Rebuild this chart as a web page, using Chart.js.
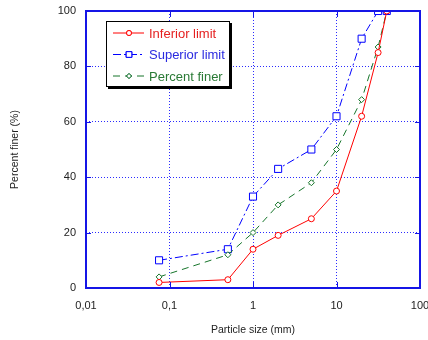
<!DOCTYPE html>
<html>
<head>
<meta charset="utf-8">
<script src="https://cdn.jsdelivr.net/npm/chart.js@4/dist/chart.umd.min.js"></script>
<style>
  html, body { margin: 0; padding: 0; background: #fff; }
</style>
</head>
<body>
<canvas id="chart" width="428" height="340"></canvas>
<script>
// 粒径 (mm) と各曲線の通過百分率
const particleSize = [0.075, 0.5, 1, 2, 5, 10, 20, 31.5, 40];
const inferiorLimit = [2, 3, 14, 19, 25, 35, 62, 85, 100];
const superiorLimit = [10, 14, 33, 43, 50, 62, 90, 100, 100];
const percentFiner = [4, 12, 20, 30, 38, 50, 68, 87, 100];
const xTicks = [0.01, 0.1, 1, 10, 100];
const yTicks = [0, 20, 40, 60, 80, 100];

const FONT = 'Liberation Sans, Arial, sans-serif';
const AXIS_BLUE = '#1515e6';

const toPoints = (ys) => particleSize.map((x, i) => ({ x: x, y: ys[i] }));

// 枠線と内向きの目盛り
const framePlugin = {
    id: 'frame',
    afterDatasetsDraw(chart) {
        const { ctx, chartArea: a, scales } = chart;
        ctx.save();
        ctx.strokeStyle = AXIS_BLUE;
        ctx.lineWidth = 1;
        xTicks.forEach(v => {
            const px = Math.round(scales.x.getPixelForValue(v)) + 0.5;
            ctx.beginPath();
            ctx.moveTo(px, a.bottom); ctx.lineTo(px, a.bottom - 6);
            ctx.moveTo(px, a.top); ctx.lineTo(px, a.top + 6);
            ctx.stroke();
        });
        yTicks.forEach(v => {
            const py = Math.round(scales.y.getPixelForValue(v)) + 0.5;
            ctx.beginPath();
            ctx.moveTo(a.left, py); ctx.lineTo(a.left + 5, py);
            ctx.moveTo(a.right, py); ctx.lineTo(a.right - 5, py);
            ctx.stroke();
        });
        ctx.lineWidth = 2;
        ctx.strokeRect(a.left, a.top, a.right - a.left, a.bottom - a.top);
        ctx.restore();
    }
};

// 影付きの凡例をプロット内に描く
const boxLegendPlugin = {
    id: 'boxLegend',
    afterDraw(chart) {
        const { ctx, chartArea: a } = chart;
        const x0 = a.left + 20, y0 = a.top + 10, w = 124, h = 66;
        ctx.save();
        ctx.fillStyle = '#000';
        ctx.fillRect(x0 + 2, y0 + 2, w, h);
        ctx.fillStyle = '#fff';
        ctx.fillRect(x0, y0, w, h);
        ctx.strokeStyle = '#000';
        ctx.lineWidth = 1;
        ctx.strokeRect(x0 + 0.5, y0 + 0.5, w - 1, h - 1);

        ctx.font = '13px ' + FONT;
        ctx.textBaseline = 'middle';
        chart.data.datasets.forEach((ds, i) => {
            const cy = y0 + 12 + i * 21.5;
            const lx1 = x0 + 7, lx2 = x0 + 38, mx = x0 + 23;
            ctx.strokeStyle = ds.borderColor;
            ctx.lineWidth = 1;
            ctx.setLineDash(ds.borderDash || []);
            ctx.beginPath();
            ctx.moveTo(lx1, cy); ctx.lineTo(lx2, cy);
            ctx.stroke();
            ctx.setLineDash([]);
            Chart.helpers.drawPoint(ctx, {
                pointStyle: ds.pointStyle,
                radius: ds.legendRadius,
                borderWidth: 1
            }, mx, cy);
            ctx.fillStyle = '#fff';
            ctx.fill();
            ctx.stroke();
            ctx.fillStyle = ds.labelColor;
            ctx.fillText(ds.label, x0 + 43, cy + 1);
        });
        ctx.restore();
    }
};

new Chart(document.getElementById('chart'), {
    type: 'line',
    data: {
        datasets: [{
            label: 'Inferior limit',
            data: toPoints(inferiorLimit),
            borderColor: '#ff0000',
            labelColor: '#e52020',
            backgroundColor: '#fff',
            pointStyle: 'circle',
            pointRadius: 3,
            legendRadius: 2.5,
            borderWidth: 1,
            order: 0
        }, {
            label: 'Superior limit',
            data: toPoints(superiorLimit),
            borderColor: '#0000ff',
            labelColor: '#2a2ae0',
            backgroundColor: '#fff',
            borderDash: [8, 3, 2, 3],
            pointStyle: 'rect',
            pointRadius: 5,
            legendRadius: 4,
            borderWidth: 1,
            order: 2
        }, {
            label: 'Percent finer',
            data: toPoints(percentFiner),
            borderColor: '#16752a',
            labelColor: '#2a7a35',
            backgroundColor: '#fff',
            borderDash: [7, 5],
            pointStyle: 'rectRot',
            pointRadius: 3,
            legendRadius: 2.5,
            borderWidth: 1,
            order: 1
        }]
    },
    options: {
        responsive: false,
        animation: false,
        layout: { padding: { top: 11, right: 8, left: 0, bottom: 0 } },
        plugins: {
            legend: { display: false },
            tooltip: { enabled: false }
        },
        elements: {
            line: { tension: 0 },
            point: { borderWidth: 1, hoverRadius: 3 }
        },
        scales: {
            x: {
                type: 'logarithmic',
                min: 0.01,
                max: 100,
                afterBuildTicks: (s) => { s.ticks = xTicks.map(v => ({ value: v })); },
                afterFit: (s) => { s.height = 52; s.paddingRight = 0; s.paddingLeft = 0; },
                grid: {
                    color: '#2b2bff',
                    drawTicks: false
                },
                border: { display: false, dash: [1, 2] },
                ticks: {
                    color: '#222',
                    font: { family: FONT, size: 11 },
                    padding: 11,
                    maxRotation: 0,
                    autoSkip: false,
                    callback: (v) => String(v).replace('.', ',')
                },
                title: {
                    display: true,
                    text: 'Particle size (mm)',
                    color: '#222',
                    font: { family: FONT, size: 10.5 },
                    padding: { top: 0, bottom: 4 }
                }
            },
            y: {
                min: 0,
                max: 100,
                afterBuildTicks: (s) => { s.ticks = yTicks.map(v => ({ value: v })); },
                afterFit: (s) => { s.width = 86; s.paddingTop = 0; s.paddingBottom = 0; },
                grid: {
                    color: '#2b2bff',
                    drawTicks: false
                },
                border: { display: false, dash: [1, 2] },
                ticks: {
                    color: '#222',
                    font: { family: FONT, size: 11 },
                    padding: 10
                },
                title: {
                    display: true,
                    text: 'Percent finer (%)',
                    color: '#222',
                    font: { family: FONT, size: 10.5 },
                    padding: { top: 9, bottom: 0 }
                }
            }
        }
    },
    plugins: [framePlugin, boxLegendPlugin]
});
</script>
</body>
</html>
